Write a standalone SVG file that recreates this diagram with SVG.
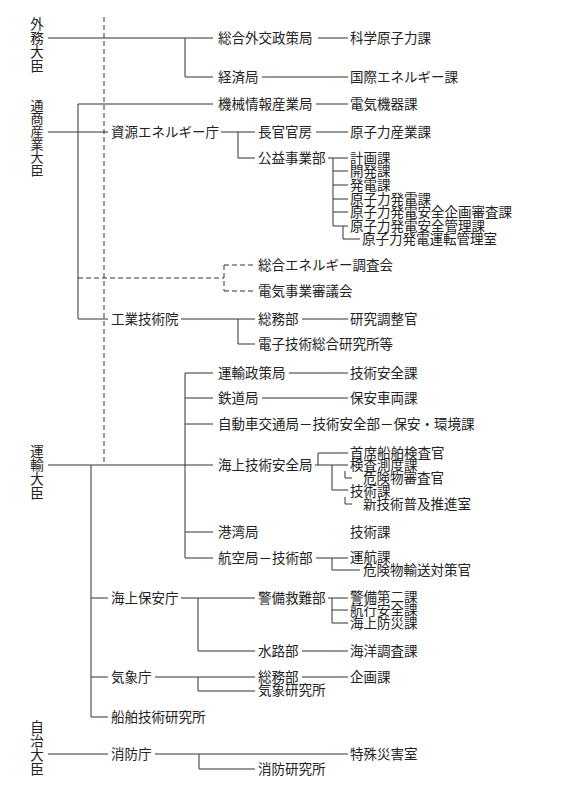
<svg xmlns="http://www.w3.org/2000/svg" width="569" height="794" viewBox="0 0 569 794">
<style>
text{font-family:"Noto Sans CJK JP","Noto Sans CJK SC",sans-serif;font-size:13.5px;fill:#222}
.v{writing-mode:vertical-rl;text-orientation:upright;letter-spacing:0.5px}
.c path{fill:none;stroke:#333;stroke-width:1}
.c .d{stroke-dasharray:5 3}
</style>
<rect width="569" height="794" fill="#fff"/>
<g class="c" id="connectors">
<path class="d" d="M104,17V465"/>
<path class="d" d="M78,278H224M224,265V291M224,265H255M224,291H255"/>
<path d="M48,38H213M185,38V77H213M318,38H348M262,77H348"/>
<path d="M78,104H213M78,104V319H108M48,132H108M316,104H348"/>
<path d="M221,132H255M238,132V158H255M316,132H348"/>
<path d="M328,158H348M333,158V226M333,171H348M333,185H348M333,199H348M333,212H348M333,226H348M343,226V239H360"/>
<path d="M181,319H255M238,319V344H255M302,319H348"/>
<path d="M48,465H213M91,465V717M185,373V558M185,373H213M185,398H213M185,424H213M185,532H213M185,558H213"/>
<path d="M289,373H348M262,398H348"/>
<path d="M315,465H348M318,453V465M318,453H348M332,465V490H348M345,471V478H352M345,497V504H352"/>
<path d="M316,558H348M332,558V570H360"/>
<path d="M91,598H108M181,598H255M198,598V651H255"/>
<path d="M328,598H348M332,598V623M332,610H348M332,623H348M302,651H348"/>
<path d="M91,677H108M155,677H255M198,677V691H255M302,677H348"/>
<path d="M91,717H108"/>
<path d="M48,754H108M155,754H348M199,754V769H255"/>
</g>
<g id="gaimu"><text class="v" x="37" y="17">外務大臣</text></g>
<g id="tsusan"><text class="v" x="37" y="98.5" style="font-size:13px;letter-spacing:0">通商産業大臣</text></g>
<g id="unyu"><text class="v" x="37" y="444">運輸大臣</text></g>
<g id="jichi"><text class="v" x="37" y="720">自治大臣</text></g>

<g id="sogo-gaiko"><text x="218" y="43">総合外交政策局</text></g>
<g id="kagaku"><text x="350" y="43">科学原子力課</text></g>
<g id="keizai"><text x="218" y="82">経済局</text></g>
<g id="kokusai"><text x="350" y="82">国際エネルギー課</text></g>

<g id="kikai"><text x="218" y="109">機械情報産業局</text></g>
<g id="denki-kiki"><text x="350" y="109">電気機器課</text></g>
<g id="shigen"><text x="111" y="137">資源エネルギー庁</text></g>
<g id="chokan"><text x="258" y="137">長官官房</text></g>
<g id="genshiryoku-sangyo"><text x="350" y="137">原子力産業課</text></g>
<g id="koeki"><text x="258" y="163">公益事業部</text></g>
<g id="keikaku"><text x="350" y="163">計画課</text></g>
<g id="kaihatsu"><text x="350" y="176">開発課</text></g>
<g id="hatsuden"><text x="350" y="190">発電課</text></g>
<g id="genshiryoku-hatsuden"><text x="350" y="204">原子力発電課</text></g>
<g id="kikaku-shinsa"><text x="350" y="217">原子力発電安全企画審査課</text></g>
<g id="anzen-kanri"><text x="350" y="231">原子力発電安全管理課</text></g>
<g id="unten-kanri"><text x="362" y="244">原子力発電運転管理室</text></g>
<g id="sogo-energy"><text x="258" y="270">総合エネルギー調査会</text></g>
<g id="denki-jigyo"><text x="258" y="296">電気事業審議会</text></g>
<g id="kogyo"><text x="111" y="324">工業技術院</text></g>
<g id="somu1"><text x="258" y="324">総務部</text></g>
<g id="kenkyu-chosei"><text x="350" y="324">研究調整官</text></g>
<g id="denshi"><text x="258" y="349">電子技術総合研究所等</text></g>

<g id="unyu-seisaku"><text x="218" y="378">運輸政策局</text></g>
<g id="gijutsu-anzen"><text x="350" y="378">技術安全課</text></g>
<g id="tetsudo"><text x="218" y="403">鉄道局</text></g>
<g id="hoan-sharyo"><text x="350" y="403">保安車両課</text></g>
<g id="jidosha"><text x="218" y="429">自動車交通局－技術安全部－保安・環境課</text></g>
<g id="kaijo-gijutsu"><text x="218" y="470">海上技術安全局</text></g>
<g id="shuseki"><text x="350" y="458">首席船舶検査官</text></g>
<g id="kensa"><text x="350" y="470">検査測度課</text></g>
<g id="kiken-shinsa"><text x="363" y="483">危険物審査官</text></g>
<g id="gijutsu1"><text x="350" y="496">技術課</text></g>
<g id="shin-gijutsu"><text x="363" y="509">新技術普及推進室</text></g>
<g id="kowan"><text x="218" y="537">港湾局</text></g>
<g id="gijutsu2"><text x="350" y="537">技術課</text></g>
<g id="koku"><text x="218" y="563">航空局－技術部</text></g>
<g id="unko"><text x="350" y="562">運航課</text></g>
<g id="kiken-yuso"><text x="363" y="575">危険物輸送対策官</text></g>
<g id="kaijo-hoan"><text x="111" y="603">海上保安庁</text></g>
<g id="keibi"><text x="258" y="603">警備救難部</text></g>
<g id="keibi2"><text x="350" y="602">警備第二課</text></g>
<g id="kouko"><text x="350" y="615">航行安全課</text></g>
<g id="bosai"><text x="350" y="628">海上防災課</text></g>
<g id="suiro"><text x="258" y="656">水路部</text></g>
<g id="kaiyo"><text x="350" y="656">海洋調査課</text></g>
<g id="kisho"><text x="111" y="682">気象庁</text></g>
<g id="somu2"><text x="258" y="682">総務部</text></g>
<g id="kikaku"><text x="350" y="682">企画課</text></g>
<g id="kisho-kenkyu"><text x="258" y="695">気象研究所</text></g>
<g id="senpaku"><text x="111" y="722">船舶技術研究所</text></g>
<g id="shobo"><text x="111" y="759">消防庁</text></g>
<g id="tokushu"><text x="350" y="759">特殊災害室</text></g>
<g id="shobo-kenkyu"><text x="258" y="774">消防研究所</text></g>
</svg>
